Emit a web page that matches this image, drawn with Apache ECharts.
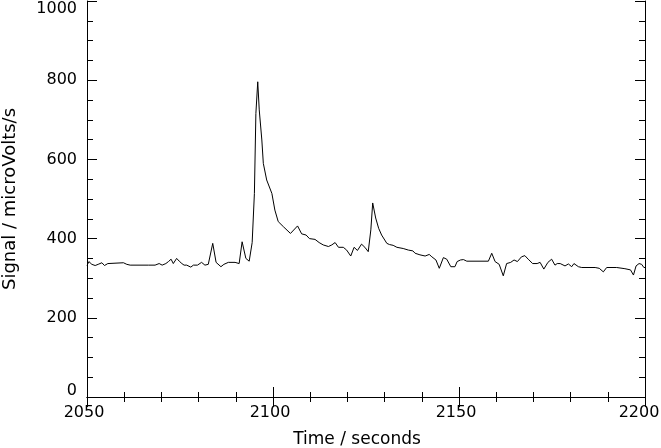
<!DOCTYPE html>
<html>
<head>
<meta charset="utf-8">
<script src="https://cdn.jsdelivr.net/npm/echarts@6/dist/echarts.min.js"></script>
<style>html,body{margin:0;padding:0;background:#fff}#c{width:661px;height:448px}</style>
</head>
<body>
<div id="c"></div>
<script>
// Time (seconds) and signal (microVolts/s)
var times = [2050.0,2050.5,2051.3,2052.2,2053.0,2054.0,2054.7,2055.6,2059.8,2060.7,2061.6,2066.5,2066.9,2068.3,2069.4,2070.2,2071.2,2071.9,2072.6,2073.2,2074.1,2074.8,2075.5,2076.1,2076.8,2077.9,2078.6,2079.7,2080.8,2081.7,2082.6,2083.8,2084.7,2086.0,2086.8,2088.0,2089.8,2090.9,2091.7,2092.7,2093.6,2094.4,2095.0,2095.4,2095.9,2096.3,2097.0,2097.4,2098.3,2099.7,2100.5,2101.4,2102.8,2104.7,2106.6,2107.7,2108.9,2109.8,2111.3,2112.4,2113.5,2114.9,2115.8,2116.7,2117.6,2118.9,2119.8,2120.9,2121.8,2122.7,2123.8,2124.7,2125.6,2126.3,2126.8,2127.6,2128.4,2129.2,2130.6,2131.3,2132.3,2133.3,2135.0,2136.4,2137.6,2138.2,2139.5,2140.9,2142.0,2142.7,2143.8,2144.7,2145.8,2146.7,2147.8,2148.9,2149.5,2150.4,2151.2,2152.1,2157.9,2158.8,2159.7,2160.8,2161.9,2162.8,2163.9,2164.8,2165.7,2166.8,2167.7,2168.6,2169.8,2171.0,2171.8,2172.8,2173.9,2174.9,2175.8,2176.4,2177.2,2178.5,2179.4,2180.3,2180.9,2182.1,2183.0,2186.6,2187.7,2188.8,2189.7,2192.4,2194.6,2196.1,2196.9,2197.6,2198.4,2199.1,2199.7,2200.0];
var signal = [332,342,335,332,335,339,332,337,339,335,333,333,332,333,337,333,337,342,348,337,350,343,337,333,333,328,333,333,340,333,335,388,340,329,335,340,340,337,392,350,343,390,514,716,796,725,649,590,548,514,472,443,430,413,432,412,409,400,398,390,384,380,384,390,378,378,371,356,378,370,386,378,367,422,490,452,426,409,388,385,383,378,375,371,369,363,359,356,360,354,346,325,352,348,329,329,342,346,347,343,343,363,342,335,306,337,340,346,342,354,357,348,337,337,340,323,340,348,333,337,337,331,336,329,337,329,327,327,325,316,327,327,324,321,308,331,337,335,327,327];
var xTicks = [2050, 2100, 2150, 2200];
var yTicks = [0, 200, 400, 600, 800, 1000];

var data = times.map(function (t, i) { return [t, signal[i]]; });
var FONT = 'DejaVu Sans';
var black = '#000';

function axisBase() {
  return {
    type: 'value',
    axisLine: { show: true, lineStyle: { color: black, width: 1 } },
    splitLine: { show: false },
    minorSplitLine: { show: false }
  };
}

var chart = echarts.init(document.getElementById('c'), null, { renderer: 'canvas' });
chart.setOption({
  animation: false,
  backgroundColor: '#fff',
  grid: { left: 87, right: 16, top: 1, bottom: 51, containLabel: false, outerBoundsMode: 'none' },
  xAxis: [
    Object.assign(axisBase(), {
      position: 'bottom',
      min: xTicks[0], max: xTicks[xTicks.length - 1], interval: 50,
      axisTick: { show: true, inside: true, length: 10, lineStyle: { color: black } },
      minorTick: { show: true, splitNumber: 5, length: 5, lineStyle: { color: black } },
      axisLabel: { show: true, color: black, fontFamily: FONT, fontSize: 16, margin: 8,
        formatter: function (v) {
          return v === xTicks[xTicks.length - 1] ? '{e|' + v + '}' : '{n|' + v + '}';
        },
        rich: {
          n: { fontFamily: FONT, fontSize: 16, color: black, padding: [0, 6, 0, 0] },
          e: { fontFamily: FONT, fontSize: 16, color: black, padding: [0, 12, 0, 0] }
        }
      },
      name: 'Time / seconds', nameLocation: 'middle', nameGap: 34,
      nameTextStyle: { color: black, fontFamily: FONT, fontSize: 17, padding: [0, 18, 0, 0] }
    }),
    Object.assign(axisBase(), {
      position: 'top',
      min: xTicks[0], max: xTicks[xTicks.length - 1], interval: 50,
      axisTick: { show: true, inside: true, length: 10, lineStyle: { color: black } },
      minorTick: { show: true, splitNumber: 5, length: 5, lineStyle: { color: black } },
      axisLabel: { show: false }
    })
  ],
  yAxis: [
    Object.assign(axisBase(), {
      position: 'left',
      min: yTicks[0], max: yTicks[yTicks.length - 1], interval: 200,
      axisTick: { show: true, inside: true, length: 10, lineStyle: { color: black } },
      minorTick: { show: true, splitNumber: 4, length: 6, lineStyle: { color: black } },
      axisLabel: {
        show: true, color: black, fontFamily: FONT, fontSize: 16, margin: 10,
        formatter: function (v) {
          if (v === 0) return '{lo|0}';
          if (v === 1000) return '{hi|1000}';
          return String(v);
        },
        rich: {
          lo: { fontFamily: FONT, fontSize: 16, color: black, padding: [0, 0, 12, 0] },
          hi: { fontFamily: FONT, fontSize: 16, color: black, padding: [16, 0, 0, 0] }
        }
      },
      name: 'Signal / microVolts/s', nameLocation: 'middle', nameGap: 68,
      nameTextStyle: { color: black, fontFamily: FONT, fontSize: 18 }
    }),
    Object.assign(axisBase(), {
      position: 'right',
      min: yTicks[0], max: yTicks[yTicks.length - 1], interval: 200,
      axisTick: { show: true, inside: true, length: 10, lineStyle: { color: black } },
      minorTick: { show: true, splitNumber: 4, length: 6, lineStyle: { color: black } },
      axisLabel: { show: false }
    })
  ],
  series: [{
    type: 'line',
    data: data,
    xAxisIndex: 0,
    yAxisIndex: 0,
    symbol: 'none',
    lineStyle: { color: black, width: 1 },
    silent: true
  }]
});
</script>
</body>
</html>
